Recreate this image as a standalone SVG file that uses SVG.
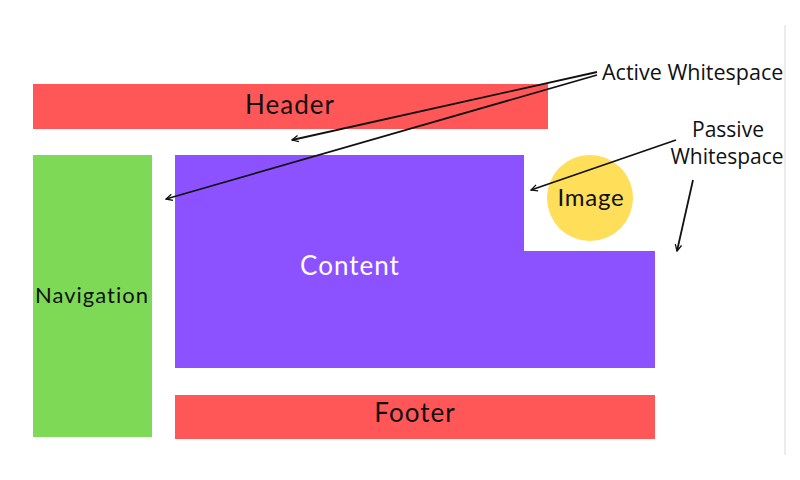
<svg xmlns="http://www.w3.org/2000/svg" width="800" height="480" viewBox="0 0 800 480">
<defs>
<marker id="arr" viewBox="0 0 10 10" refX="9" refY="5" markerWidth="8" markerHeight="8" orient="auto" markerUnits="userSpaceOnUse">
<path d="M1,1 L9,5 L1,9" fill="none" stroke="#111" stroke-width="1.6"/>
</marker>
<style>
.lbl{font-family:"Lato","Liberation Sans",sans-serif;font-size:26px;letter-spacing:1px;text-anchor:middle}
.ann{font-family:"Open Sans","Noto Sans",sans-serif;font-size:21.5px;fill:#111}
.con{stroke:#111;stroke-width:1.8;fill:none;marker-end:url(#arr)}
</style>
</defs>
<rect width="800" height="480" fill="#ffffff"/>
<line x1="785" y1="25" x2="785" y2="455" stroke="#e6e6e6" stroke-width="1.5"/>
<g id="header">
<rect x="33" y="84" width="515" height="45" fill="#ff5757"/>
<text class="lbl" x="290" y="114" fill="#111">Header</text>
</g>
<g id="navigation">
<rect x="33" y="155" width="119" height="282" fill="#7ed957"/>
<text class="lbl" x="92" y="303" fill="#111" style="font-size:22px">Navigation</text>
</g>
<g id="content">
<path d="M175,155 H524 V251 H655 V368 H175 Z" fill="#8c52ff"/>
<text class="lbl" x="350" y="275" fill="#ffffff">Content</text>
</g>
<g id="image">
<circle cx="590" cy="198" r="43" fill="#ffde59"/>
<text class="lbl" x="591" y="206" fill="#111" style="font-size:24px;letter-spacing:0.8px">Image</text>
</g>
<g id="footer">
<rect x="175" y="395" width="480" height="44" fill="#ff5757"/>
<text class="lbl" x="415" y="422" fill="#111">Footer</text>
</g>
<g id="active-whitespace">
<text class="ann" x="602" y="80">Active Whitespace</text>
</g>
<g id="passive-whitespace">
<text class="ann" x="728" y="137" text-anchor="middle" style="font-size:21px">Passive</text>
<text class="ann" x="727" y="164" text-anchor="middle" style="font-size:21px">Whitespace</text>
</g>
<g id="connectors">
<line class="con" x1="597" y1="72" x2="292" y2="140"/>
<line class="con" x1="597" y1="75" x2="166" y2="199"/>
<line class="con" x1="676" y1="140" x2="531" y2="190"/>
<line class="con" x1="693" y1="180" x2="677" y2="251"/>
</g>
</svg>
